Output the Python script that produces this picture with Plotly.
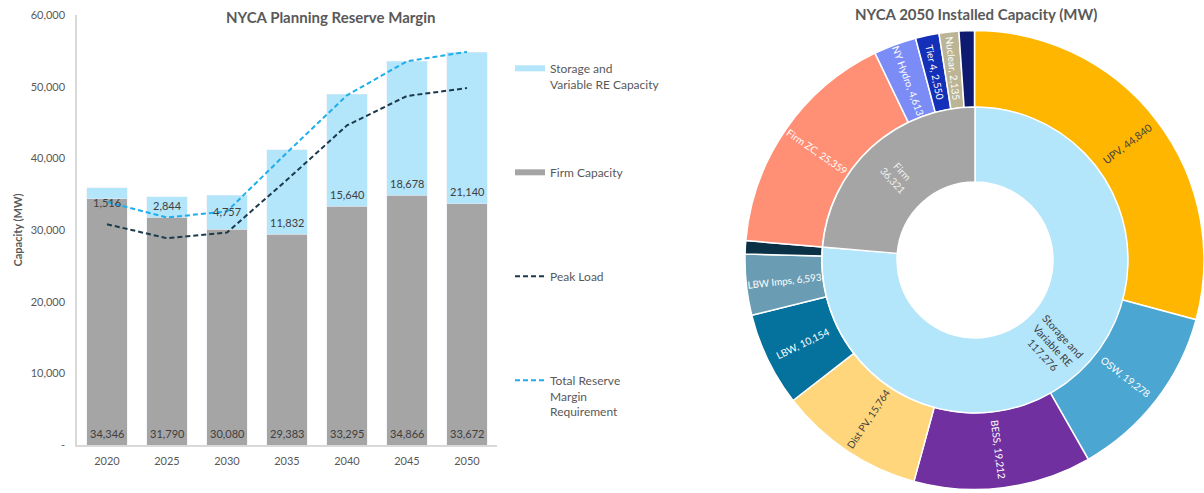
import math
import plotly.graph_objects as go

# ---------------- data ----------------
years = ["2020", "2025", "2030", "2035", "2040", "2045", "2050"]
firm_capacity = [34346, 31790, 30080, 29383, 33295, 34866, 33672]
storage_re_capacity = [1516, 2844, 4757, 11832, 15640, 18678, 21140]
peak_load = [30800, 28850, 29650, 37000, 44600, 48700, 49800]
reserve_requirement = [33900, 31750, 32600, 40800, 48800, 53550, 54850]

y_tick_values = [0, 10000, 20000, 30000, 40000, 50000, 60000]
y_tick_text = ["-", "10,000", "20,000", "30,000", "40,000", "50,000", "60,000"]

inner_labels = ["Storage and Variable RE", "Firm"]
inner_values = [117276, 36321]

outer_labels = ["UPV", "OSW", "BESS", "Dist PV", "LBW", "LBW Imps", "Other RE",
                "Firm ZC", "NY Hydro", "Tier 4", "Nuclear", "Other Firm"]
outer_values = [44840, 19278, 19212, 15764, 10154, 6593, 1435,
                25359, 4613, 2550, 2135, 1664]
outer_show_label = [True, True, True, True, True, True, False,
                    True, True, True, True, False]

# ---------------- styles ----------------
FONT = "Lato"
TXT = "#595959"
LBL = "#404040"
C_FIRM = "#A5A5A5"
C_STOR = "#B3E5FB"
C_PEAK = "#1B3A4B"
C_RES = "#1FAEEC"

outer_colors = ["#FFB600", "#4BA6D1", "#7030A0", "#FFD67B", "#05729E", "#6A9DB3",
                "#0B3147", "#FF8F75", "#7B8CF7", "#1530B8", "#BCB595", "#0D1A70"]
outer_text_colors = [LBL, "white", "white", LBL, "white", "white", "white",
                     "white", "white", "white", "white", "white"]
inner_colors = [C_STOR, C_FIRM]
inner_text_colors = [LBL, "#F2F2F2"]
# slices whose labels are drawn as rotated annotations (plotly would place them horizontally)
outer_annot = [True] + [False] * 11
inner_annot = [True, False]

# storage label vertical offsets (px above top of firm bar)
stor_label_shift = [-4, 12, 18, 12, 12, 12, 12]

W, H = 1204, 493
fig = go.Figure()

# ---------------- left: bar chart ----------------
fig.add_trace(go.Bar(x=years, y=firm_capacity, name="Firm Capacity",
                     marker=dict(color=C_FIRM), showlegend=False, hoverinfo="skip"))
fig.add_trace(go.Bar(x=years, y=storage_re_capacity, name="Storage and Variable RE Capacity",
                     marker=dict(color=C_STOR), showlegend=False, hoverinfo="skip"))
fig.add_trace(go.Scatter(x=years, y=peak_load, mode="lines", name="Peak Load",
                         line=dict(color=C_PEAK, width=2, dash="5px,3px"),
                         legend="legend3", hoverinfo="skip"))
fig.add_trace(go.Scatter(x=years, y=reserve_requirement, mode="lines",
                         name="Total Reserve<br>Margin<br>Requirement",
                         line=dict(color=C_RES, width=2, dash="5px,3px"),
                         legend="legend4", hoverinfo="skip"))
# legend keys for the bars (thick line keys)
fig.add_trace(go.Scatter(x=[years[0]], y=[None], mode="lines",
                         name="Storage and<br>Variable RE Capacity",
                         line=dict(color=C_STOR, width=6), legend="legend", hoverinfo="skip"))
fig.add_trace(go.Scatter(x=[years[0]], y=[None], mode="lines", name="Firm Capacity",
                         line=dict(color=C_FIRM, width=6), legend="legend2", hoverinfo="skip"))

annotations = []
for i, yr in enumerate(years):
    annotations.append(dict(x=i, y=0, xref="x", yref="y", yshift=12,
                            xanchor="center", yanchor="middle",
                            text=f"{firm_capacity[i]:,}", showarrow=False,
                            font=dict(family=FONT, size=11, color=LBL)))
    annotations.append(dict(x=i, y=firm_capacity[i], xref="x", yref="y",
                            yshift=stor_label_shift[i], xanchor="center", yanchor="middle",
                            text=f"{storage_re_capacity[i]:,}", showarrow=False,
                            font=dict(family=FONT, size=11, color=LBL)))

# titles
annotations.append(dict(x=330 / W, y=1 - 17 / H, xref="paper", yref="paper",
                        xanchor="center", yanchor="middle",
                        text="<b>NYCA Planning Reserve Margin</b>", showarrow=False,
                        font=dict(family=FONT, size=15, color=TXT)))
annotations.append(dict(x=976 / W, y=1 - 14 / H, xref="paper", yref="paper",
                        xanchor="center", yanchor="middle",
                        text="<b>NYCA 2050 Installed Capacity (MW)</b>", showarrow=False,
                        font=dict(family=FONT, size=15, color=TXT)))

# ---------------- right: nested donut ----------------
cx, cy = 975, 260
r_out, r_mid, r_in = 230, 153, 78


def radial_annotations(values, texts, colors, use, r0, r1):
    """Rotated (radial) labels at each slice's mid-angle, computed from the values."""
    total = float(sum(values))
    out = []
    cum = 0.0
    for v, t, c, u in zip(values, texts, colors, use):
        theta = (cum + v / 2.0) / total * 360.0  # clockwise from 12 o'clock
        cum += v
        if not u:
            continue
        rr = (r0 + r1) / 2.0
        px = cx + rr * math.sin(math.radians(theta))
        py = cy - rr * math.cos(math.radians(theta))
        ang = theta - 90.0 if theta <= 180 else theta - 270.0
        out.append(dict(x=px / W, y=1 - py / H, xref="paper", yref="paper",
                        xanchor="center", yanchor="middle",
                        text=t, showarrow=False, textangle=ang,
                        font=dict(family=FONT, size=10.5, color=c)))
    return out


outer_full_text = [f"{l}, {v:,}" if s else "" for l, v, s in zip(outer_labels, outer_values, outer_show_label)]
outer_text = [("" if a else t) for t, a in zip(outer_full_text, outer_annot)]
fig.add_trace(go.Pie(
    labels=outer_labels, values=outer_values, text=outer_text, textinfo="text",
    sort=False, direction="clockwise", rotation=0, hole=r_mid / r_out,
    marker=dict(colors=outer_colors, line=dict(color="white", width=1.5)),
    textposition="inside", insidetextorientation="radial",
    textfont=dict(family=FONT, size=10, color=outer_text_colors),
    domain=dict(x=[(cx - r_out) / W, min(1.0, (cx + r_out) / W)],
                y=[1 - (cy + r_out) / H, 1 - (cy - r_out) / H]),
    showlegend=False, hoverinfo="label+value"))

inner_full_text = [("Storage and<br>Variable RE<br>" if i == 0 else "Firm<br>") + f"{v:,}"
                   for i, v in enumerate(inner_values)]
inner_text = [("" if a else t) for t, a in zip(inner_full_text, inner_annot)]
fig.add_trace(go.Pie(
    labels=inner_labels, values=inner_values, text=inner_text,
    textinfo="text", sort=False, direction="clockwise", rotation=0, hole=r_in / r_mid,
    marker=dict(colors=inner_colors, line=dict(color="white", width=1.5)),
    textposition="inside", insidetextorientation="radial",
    textfont=dict(family=FONT, size=10, color=inner_text_colors),
    domain=dict(x=[(cx - r_mid) / W, (cx + r_mid) / W],
                y=[1 - (cy + r_mid) / H, 1 - (cy - r_mid) / H]),
    showlegend=False, hoverinfo="label+value"))

annotations += radial_annotations(outer_values, outer_full_text, outer_text_colors,
                                  outer_annot, r_mid, r_out)
annotations += radial_annotations(inner_values, inner_full_text, inner_text_colors,
                                  inner_annot, r_in, r_mid)

x0_px, x1_px = 77, 497
y_top_px, y_bot_px = 15, 445

legend_common = dict(xref="paper", yref="paper", xanchor="left", yanchor="top",
                     bgcolor="rgba(0,0,0,0)", borderwidth=0, valign="top",
                     itemwidth=30, font=dict(family=FONT, size=12, color=TXT))


def leg(y_first_line_px):
    return dict(x=510 / W, y=1 - (y_first_line_px - 14) / H, **legend_common)


fig.update_layout(
    width=W, height=H,
    margin=dict(l=0, r=0, t=0, b=0, autoexpand=False),
    paper_bgcolor="white", plot_bgcolor="white",
    barmode="stack", bargap=0.33,
    font=dict(family=FONT, color=TXT),
    xaxis=dict(domain=[x0_px / W, x1_px / W], type="category",
               categoryorder="array", categoryarray=years, range=[-0.5, len(years) - 0.5],
               automargin=False, ticklabelstandoff=5,
               showgrid=False, showline=True, linecolor="#D9D9D9", linewidth=1.5,
               ticks="", tickfont=dict(family=FONT, size=11, color=TXT)),
    yaxis=dict(domain=[1 - y_bot_px / H, 1 - y_top_px / H], range=[0, 60000],
               automargin=False,
               tickvals=y_tick_values, ticktext=y_tick_text,
               showgrid=False, showline=True, linecolor="#D9D9D9", linewidth=1.5,
               zeroline=False, ticks="", ticklabelstandoff=8,
               tickfont=dict(family=FONT, size=11, color=TXT),
               title=dict(text="<b>Capacity (MW)</b>", standoff=6,
                          font=dict(family=FONT, size=11, color=TXT))),
    legend=leg(68), legend2=leg(172), legend3=leg(276), legend4=leg(380),
    annotations=annotations,
)

fig.write_html("out.html",
               config={"displayModeBar": False},
               post_script="document.body.style.margin='0';document.body.style.overflow='hidden';")
